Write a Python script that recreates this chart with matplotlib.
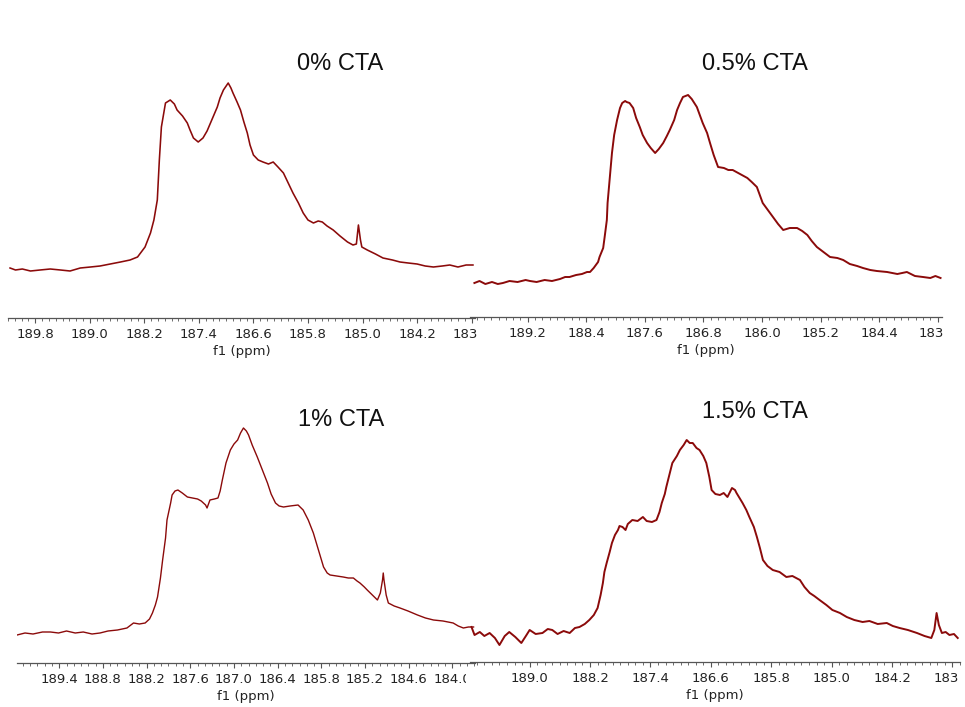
import matplotlib
matplotlib.use("Agg")
import matplotlib.pyplot as plt
from matplotlib.ticker import MultipleLocator, FixedLocator
from matplotlib.transforms import Bbox, TransformedBbox

W, H = 965, 707

# ---------------- data (13C NMR, carbonyl region) ----------------
titles = ["0% CTA", "0.5% CTA", "1% CTA", "1.5% CTA"]

ppm_0 = [190.17, 190.09, 189.99, 189.87, 189.73, 189.58, 189.43, 189.29, 189.14, 188.99,
         188.85, 188.70, 188.55, 188.41, 188.30, 188.19, 188.11, 188.06, 188.01, 187.98,
         187.95, 187.89, 187.82, 187.76, 187.72, 187.64, 187.57, 187.53, 187.48, 187.41,
         187.34, 187.28, 187.23, 187.18, 187.13, 187.09, 187.04, 186.97, 186.93, 186.90,
         186.84, 186.79, 186.74, 186.69, 186.65, 186.60, 186.53, 186.46, 186.38, 186.31,
         186.24, 186.16, 186.09, 186.02, 185.94, 185.87, 185.80, 185.72, 185.65, 185.59,
         185.52, 185.43, 185.33, 185.22, 185.14, 185.09, 185.06, 185.03, 185.01, 184.93,
         184.81, 184.70, 184.56, 184.45, 184.33, 184.20, 184.08, 183.96, 183.83, 183.72,
         183.60, 183.48, 183.38]
int_0 = [50, 48, 49, 47, 48, 49, 48, 47, 50, 51,
         52, 54, 56, 58, 61, 71, 85, 98, 118, 158,
         191, 215, 218, 214, 208, 202, 195, 188, 180, 176,
         180, 187, 195, 203, 211, 220, 228, 235, 230, 225,
         216, 208, 196, 185, 173, 163, 158, 156, 154, 156,
         151, 145, 135, 125, 115, 105, 98, 95, 97, 96,
         92, 88, 82, 76, 73, 74, 93, 78, 71, 68,
         64, 60, 58, 56, 55, 54, 52, 51, 52, 53,
         51, 53, 53]

ppm_05 = [189.93, 189.86, 189.78, 189.69, 189.61, 189.54, 189.45, 189.34, 189.23, 189.17,
          189.08, 188.97, 188.87, 188.76, 188.69, 188.63, 188.54, 188.46, 188.39, 188.35,
          188.30, 188.24, 188.22, 188.17, 188.15, 188.12, 188.11, 188.08, 188.05, 188.02,
          187.98, 187.94, 187.91, 187.87, 187.85, 187.81, 187.76, 187.72, 187.67, 187.63,
          187.57, 187.52, 187.46, 187.41, 187.35, 187.30, 187.26, 187.20, 187.16, 187.12,
          187.08, 187.01, 186.96, 186.89, 186.85, 186.81, 186.75, 186.71, 186.66, 186.60,
          186.52, 186.46, 186.40, 186.30, 186.20, 186.14, 186.07, 186.03, 185.99, 185.92,
          185.85, 185.78, 185.71, 185.62, 185.52, 185.45, 185.38, 185.32, 185.25, 185.16,
          185.07, 184.97, 184.89, 184.80, 184.70, 184.62, 184.52, 184.43, 184.29, 184.15,
          184.02, 183.91, 183.80, 183.70, 183.63, 183.56]
int_05 = [34, 36, 33, 35, 33, 34, 36, 35, 37, 36,
          35, 37, 36, 38, 40, 40, 42, 43, 45, 45,
          49, 55, 60, 69, 80, 97, 114, 139, 164, 182,
          197, 209, 214, 216, 215, 214, 209, 199, 190, 182,
          174, 169, 164, 168, 174, 181, 187, 197, 207, 214,
          220, 222, 218, 210, 202, 194, 184, 174, 162, 150,
          149, 147, 147, 143, 139, 135, 130, 122, 114, 107,
          100, 93, 87, 89, 89, 86, 82, 76, 70, 65,
          60, 59, 57, 53, 51, 49, 47, 46, 45, 43,
          45, 41, 40, 39, 41, 39]

ppm_1 = [189.98, 189.87, 189.76, 189.63, 189.52, 189.41, 189.30, 189.18, 189.07, 188.95,
         188.84, 188.73, 188.60, 188.47, 188.38, 188.30, 188.22, 188.16, 188.12, 188.08,
         188.05, 188.01, 187.98, 187.94, 187.92, 187.87, 187.85, 187.81, 187.77, 187.71,
         187.64, 187.57, 187.50, 187.45, 187.39, 187.37, 187.33, 187.27, 187.22, 187.19,
         187.16, 187.11, 187.05, 187.00, 186.95, 186.91, 186.87, 186.83, 186.80, 186.75,
         186.68, 186.61, 186.54, 186.49, 186.43, 186.38, 186.32, 186.23, 186.12, 186.05,
         185.98, 185.91, 185.84, 185.77, 185.72, 185.68, 185.59, 185.50, 185.43, 185.36,
         185.31, 185.27, 185.21, 185.17, 185.10, 185.03, 184.99, 184.96, 184.95, 184.94,
         184.91, 184.88, 184.80, 184.72, 184.61, 184.48, 184.37, 184.26, 184.13, 183.99,
         183.92, 183.85, 183.78, 183.71]
int_1 = [28, 30, 29, 31, 31, 30, 32, 30, 31, 29,
         30, 32, 33, 35, 40, 39, 40, 44, 50, 58,
         66, 85, 103, 125, 143, 160, 168, 172, 173, 170,
         166, 165, 164, 162, 158, 155, 163, 164, 165, 172,
         183, 200, 213, 219, 223, 230, 235, 232, 228, 218,
         206, 193, 180, 169, 160, 157, 156, 157, 158, 153,
         143, 130, 113, 96, 90, 88, 87, 86, 85, 85,
         82, 80, 76, 73, 68, 63, 70, 83, 90, 83,
         68, 60, 57, 55, 52, 48, 45, 43, 42, 40,
         37, 35, 36, 36]

ppm_15 = [189.77, 189.73, 189.66, 189.60, 189.53, 189.46, 189.40, 189.33, 189.27, 189.19,
          189.11, 189.05, 189.00, 188.92, 188.83, 188.76, 188.70, 188.63, 188.55, 188.47,
          188.40, 188.34, 188.27, 188.21, 188.15, 188.10, 188.06, 188.03, 188.01, 187.98,
          187.94, 187.91, 187.87, 187.83, 187.81, 187.77, 187.73, 187.70, 187.64, 187.57,
          187.50, 187.45, 187.38, 187.32, 187.28, 187.25, 187.21, 187.19, 187.15, 187.11,
          187.05, 187.01, 186.96, 186.92, 186.88, 186.84, 186.79, 186.75, 186.70, 186.66,
          186.62, 186.59, 186.54, 186.48, 186.43, 186.38, 186.32, 186.28, 186.26, 186.22,
          186.18, 186.13, 186.09, 186.03, 185.99, 185.95, 185.91, 185.85, 185.78, 185.69,
          185.60, 185.52, 185.42, 185.36, 185.29, 185.23, 185.16, 185.07, 184.99, 184.89,
          184.80, 184.70, 184.59, 184.50, 184.39, 184.27, 184.19, 184.10, 183.99, 183.87,
          183.77, 183.68, 183.64, 183.61, 183.58, 183.54, 183.49, 183.44, 183.38, 183.33]
int_15 = [35, 27, 30, 26, 29, 24, 17, 26, 30, 25,
          19, 26, 32, 28, 29, 33, 32, 28, 31, 29,
          34, 35, 38, 42, 47, 54, 67, 79, 90, 99,
          110, 119, 127, 132, 136, 135, 132, 138, 142, 141,
          145, 141, 140, 142, 150, 159, 168, 175, 187, 199,
          206, 212, 217, 222, 219, 219, 214, 212, 206, 199,
          185, 172, 168, 167, 169, 165, 174, 172, 169, 164,
          159, 152, 145, 135, 125, 114, 102, 96, 92, 90,
          85, 86, 82, 75, 69, 66, 62, 57, 52, 49,
          45, 42, 40, 41, 38, 39, 36, 34, 32, 29,
          26, 24, 32, 49, 37, 29, 30, 27, 28, 24]

# axis ranges (ppm, reversed) and major tick labels
xlims = [(190.20, 183.35), (189.99, 183.54), (189.98, 183.69), (189.79, 183.30)]
major_ticks = [
    [189.8, 189.0, 188.2, 187.4, 186.6, 185.8, 185.0, 184.2, 183.4],
    [189.2, 188.4, 187.6, 186.8, 186.0, 185.2, 184.4, 183.6],
    [189.4, 188.8, 188.2, 187.6, 187.0, 186.4, 185.8, 185.2, 184.6, 184.0],
    [189.0, 188.2, 187.4, 186.6, 185.8, 185.0, 184.2, 183.4],
]
spectra = [(ppm_0, int_0), (ppm_05, int_05), (ppm_1, int_1), (ppm_15, int_15)]

# ---------------- layout (pixels) ----------------
boxes = [(8, 475, 40, 318), (470, 942, 40, 317), (17, 475, 385, 663), (470, 960, 385, 662)]
clips = [(0, 478), (474, 943), (0, 466), (474, 958)]
title_pos = [(340, 64), (755, 64), (341, 420), (755, 412)]
line_widths = [1.15, 1.4, 1.0, 1.4]

line_color = "#8b0a0a"

fig = plt.figure(figsize=(W / 100, H / 100), dpi=100)
fig.patch.set_facecolor("white")

axes = []
for i in range(4):
    l, r, t, b = boxes[i]
    ax = fig.add_axes([l / W, 1 - b / H, (r - l) / W, (b - t) / H])
    ax.patch.set_visible(False)
    x, y = spectra[i]
    ax.plot(x, y, color=line_color, lw=line_widths[i])
    ax.set_xlim(*xlims[i])
    ax.set_ylim(0, b - t)
    for s in ["top", "left", "right"]:
        ax.spines[s].set_visible(False)
    ax.spines["bottom"].set_color("#555555")
    ax.spines["bottom"].set_linewidth(0.9)
    ax.set_yticks([])
    ax.xaxis.set_major_locator(FixedLocator(major_ticks[i]))
    ax.xaxis.set_minor_locator(MultipleLocator(0.1))
    ax.set_xticklabels([f"{v:.1f}" for v in major_ticks[i]])
    ax.tick_params(axis="x", which="major", direction="out", length=3.5, width=0.8,
                   color="#555555", labelsize=9.5, pad=3.5, labelcolor="#222222")
    ax.tick_params(axis="x", which="minor", direction="out", length=2, width=0.6,
                   color="#555555")
    ax.set_xlabel("f1 (ppm)", fontsize=9.5, color="#222222", labelpad=3)
    axes.append(ax)
    tx, ty = title_pos[i]
    fig.text(tx / W, 1 - ty / H, titles[i], ha="center", va="center",
             fontsize=17, family="Liberation Sans", color="#111111")

fig.canvas.draw()
for ax, (c0, c1) in zip(axes, clips):
    cb = TransformedBbox(Bbox.from_extents(c0 / W, 0, c1 / W, 1), fig.transFigure)
    for lab in ax.get_xticklabels():
        lab.set_clip_on(True)
        lab.set_clip_box(cb)

fig.savefig("out.png", dpi=100, facecolor="white")
